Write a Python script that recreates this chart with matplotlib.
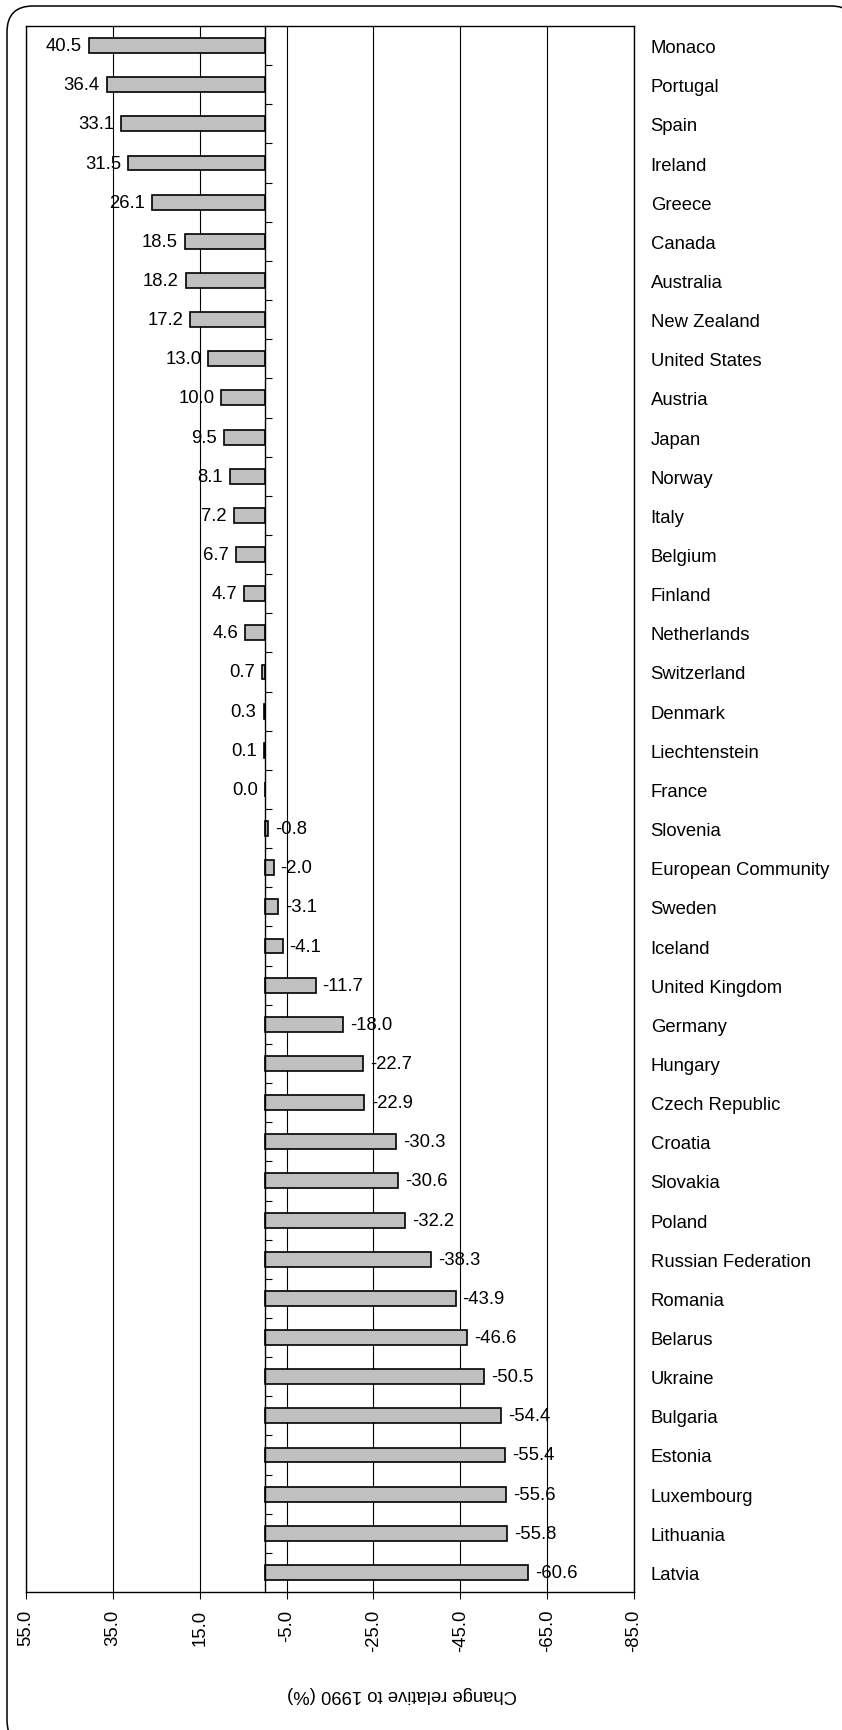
import matplotlib.pyplot as plt
import numpy as np
from matplotlib.patches import FancyBboxPatch, Polygon

plt.rcParams['font.family'] = ['Liberation Sans', 'DejaVu Sans']

countries = ['Monaco', 'Portugal', 'Spain', 'Ireland', 'Greece', 'Canada',
             'Australia', 'New Zealand', 'United States', 'Austria', 'Japan',
             'Norway', 'Italy', 'Belgium', 'Finland', 'Netherlands',
             'Switzerland', 'Denmark', 'Liechtenstein', 'France', 'Slovenia',
             'European Community', 'Sweden', 'Iceland', 'United Kingdom',
             'Germany', 'Hungary', 'Czech Republic', 'Croatia', 'Slovakia',
             'Poland', 'Russian Federation', 'Romania', 'Belarus', 'Ukraine',
             'Bulgaria', 'Estonia', 'Luxembourg', 'Lithuania', 'Latvia']
change = [40.5, 36.4, 33.1, 31.5, 26.1, 18.5, 18.2, 17.2, 13.0, 10.0, 9.5,
          8.1, 7.2, 6.7, 4.7, 4.6, 0.7, 0.3, 0.1, 0.0, -0.8, -2.0, -3.1, -4.1,
          -11.7, -18.0, -22.7, -22.9, -30.3, -30.6, -32.2, -38.3, -43.9,
          -46.6, -50.5, -54.4, -55.4, -55.6, -55.8, -60.6]
xticks = [55, 35, 15, -5, -25, -45, -65, -85]

W, H = 842, 1731
FS = 13.3
fig = plt.figure(figsize=(W / 100, H / 100), dpi=100)

# rounded outer frame, drawn in pixel units; its right and bottom edges
# run past the canvas.  Curves are flattened to segments so clipping at
# the canvas edge stays clean.
bg = fig.add_axes([0, 0, 1, 1], zorder=-1)
bg.set_xlim(0, W)
bg.set_ylim(H, 0)
bg.set_autoscale_on(False)
bg.axis('off')
rounded = FancyBboxPatch((7, 7), 850, 1740,
                         boxstyle='round,pad=0,rounding_size=26')
outline = rounded.get_path().to_polygons(closed_only=False)[0]
bg.add_patch(Polygon(outline, closed=True, fill=False, ec='black', lw=1.1))

ax = fig.add_axes([26 / W, 1 - 1593 / H, (634 - 26) / W, (1593 - 27) / H])
y = np.arange(len(countries))
ax.barh(y, change, height=0.38, color='#c0c0c0', edgecolor='black',
        linewidth=1.2, zorder=3)

for yi, v in zip(y, change):
    if v >= 0:
        ax.annotate(f'{v:.1f}', (v, yi), xytext=(-5, 0),
                    textcoords='offset points', ha='right', va='center',
                    fontsize=FS, zorder=4)
    else:
        ax.annotate(f'{v:.1f}', (v, yi), xytext=(5, 0),
                    textcoords='offset points', ha='left', va='center',
                    fontsize=FS, zorder=4)

ax.set_xlim(55, -85)
ax.set_ylim(len(countries) - 0.5, -0.5)
ax.set_xticks(xticks)
ax.set_xticklabels([f'{t:.1f}' for t in xticks], rotation=90)
ax.tick_params(axis='x', direction='out', length=5, width=0.8, pad=7,
               labelsize=FS)

ax.set_yticks(y)
ax.set_yticklabels(countries)
ax.set_yticks(y[:-1] + 0.5, minor=True)
ax.tick_params(axis='y', which='major', left=False, right=False,
               labelleft=False, labelright=True, length=0, pad=12,
               labelsize=FS)
ax.tick_params(axis='y', which='minor', left=True, right=False,
               direction='in', length=5, width=0.8)

# category axis sits on the zero line
ax.spines['left'].set_position(('data', 0))
ax.spines['left'].set_zorder(5)
for s in ax.spines.values():
    s.set_linewidth(1.0)
ax.axvline(55, color='black', lw=1.0, clip_on=False)

ax.grid(axis='x', color='black', lw=0.8)
ax.set_axisbelow(True)

fig.text(402 / W, 1 - 1695 / H, 'Change relative to 1990 (%)', rotation=180,
         ha='center', va='center', fontsize=FS)

fig.savefig('out.png', dpi=100)
